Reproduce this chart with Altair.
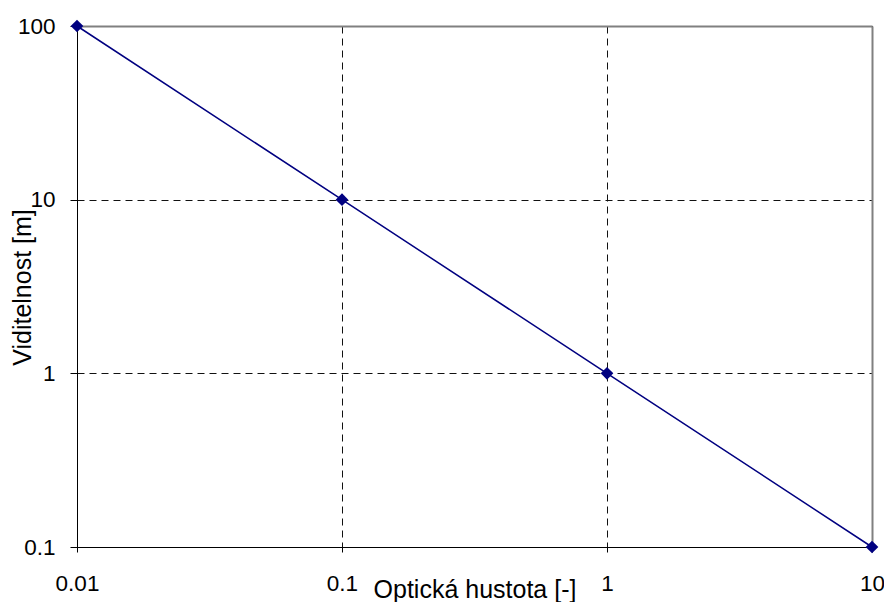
import altair as alt
import pandas as pd

# Data
optical_density = [0.01, 0.1, 1, 10]
visibility = [100, 10, 1, 0.1]
x_ticks = [0.01, 0.1, 1, 10]
y_ticks = [0.1, 1, 10, 100]

df = pd.DataFrame({"od": optical_density, "vis": visibility})

FONT = "Liberation Sans"
NAVY = "#000080"

xs = alt.Scale(type="log", domain=[0.01, 10], nice=False)
ys = alt.Scale(type="log", domain=[0.1, 100], nice=False)

x_axis = alt.Axis(
    orient="bottom", values=x_ticks, format="~g",
    labelFont=FONT, labelFontSize=22.5, labelColor="black",
    labelBaseline="alphabetic", labelPadding=38, labelFlush=False,
    tickSize=5, tickColor="black", domainColor="black", domainWidth=1,
    grid=True, gridDash=[7, 5], gridColor="#111111", gridWidth=1,
    title="Optická hustota [-]", titleFont=FONT, titleFontSize=25,
    titleFontWeight="normal", titleColor="black",
    titleBaseline="alphabetic", titleY=50,
)
y_axis = alt.Axis(
    orient="left", values=y_ticks, format="~g",
    labelFont=FONT, labelFontSize=22.5, labelColor="black",
    labelPadding=15, labelFlush=False,
    tickSize=7, tickColor="black", domainColor="black", domainWidth=1,
    grid=True, gridDash=[7, 5], gridColor="#111111", gridWidth=1,
    title="Viditelnost [m]", titleFont=FONT, titleFontSize=25,
    titleFontWeight="normal", titleColor="black",
    titleAngle=270, titleBaseline="alphabetic", titleAlign="center",
    titleX=-47, titleY=261,
)

base = alt.Chart(df)

line = base.mark_line(color=NAVY, strokeWidth=1.5).encode(
    x=alt.X("od:Q", scale=xs, axis=x_axis),
    y=alt.Y("vis:Q", scale=ys, axis=y_axis),
)
points = base.mark_point(shape="diamond", filled=True, size=160,
                         color=NAVY, opacity=1).encode(
    x=alt.X("od:Q", scale=xs, axis=None),
    y=alt.Y("vis:Q", scale=ys, axis=None),
)
border = base.mark_point(opacity=0).encode(
    x=alt.X("od:Q", scale=xs, axis=alt.Axis(
        orient="top", labels=False, ticks=False, grid=False,
        domainColor="#808080", domainWidth=2, title=None)),
    y=alt.Y("vis:Q", scale=ys, axis=alt.Axis(
        orient="right", labels=False, ticks=False, grid=False,
        domainColor="#808080", domainWidth=2, title=None)),
)

chart = alt.layer(line, border, points).resolve_axis(
    x="independent", y="independent"
).properties(
    width=795, height=521,
    autosize=alt.AutoSizeParams(type="none"),
    padding={"left": 69, "top": 18, "right": 12, "bottom": 55},
).configure_view(stroke=None).configure(background="white")

chart.save("out.html", embed_options={"renderer": "svg", "actions": False})
